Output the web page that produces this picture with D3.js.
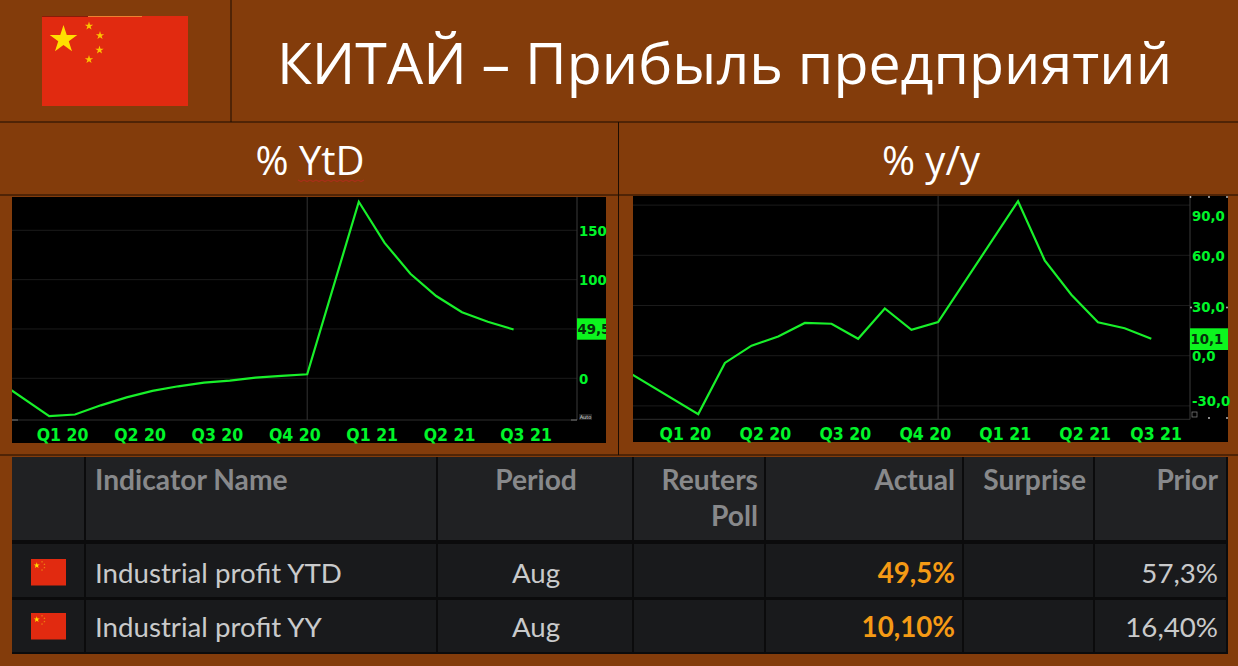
<!DOCTYPE html>
<html><head><meta charset="utf-8">
<script src="https://cdn.jsdelivr.net/npm/d3@7"></script>
<style>
html,body{margin:0;padding:0;background:#833c0b;}
svg{display:block;}
text{white-space:pre;}
.ax{font-family:"DejaVu Sans";font-stretch:condensed;font-weight:bold;font-size:14.8px;fill:#00f52a;}
.ql{font-family:"DejaVu Sans";font-stretch:condensed;font-weight:bold;font-size:17.5px;fill:#00f52a;}
.hd{font-family:"Open Sans";fill:#fff;}
.th{font-family:"Lato";font-weight:700;font-size:28.2px;fill:#88898b;}
.td{font-family:"Lato";font-size:27.7px;fill:#c9cacb;}
.ac{font-family:"Lato";font-weight:700;font-size:27.7px;fill:#f59a15;}
</style></head><body>
<svg id="c" width="1238" height="666"></svg>
<script>
const title = "КИТАЙ – Прибыль предприятий";
const leftTitle = "% YtD";
const rightTitle = "% y/y";
const quarterLabels = ["Q1 20","Q2 20","Q3 20","Q4 20","Q1 21","Q2 21","Q3 21"];
const quarterMonths = [2.5,5.5,8.5,11.5,14.5,17.5,20.5];
const ytdMonths = [0,2,3,4,5,6,7,8,9,10,11,12,14,15,16,17,18,19,20];
const ytdValues = [-2.5,-38.3,-36.7,-27.4,-19.3,-12.8,-8.1,-4.4,-2.4,0.7,2.4,4.1,178.9,137.3,106,83.4,66.9,57.3,49.5];
const yyMonths = [0,3,4,5,6,7,8,9,10,11,12,15,16,17,18,19,20];
const yyValues = [-6.3,-34.9,-4.3,6,11.5,19.6,19.1,10.1,28.2,15.5,20.1,92.3,57,36.4,20,16.4,10.1];
const ytdTicks = [150,100,50,0];
const ytdLabelled = [150,100,0];
const yyTicks = [90,60,30,0,-30];
const headers = ["Indicator Name","Period","Reuters","Poll","Actual","Surprise","Prior"];
const rowNames = ["Industrial profit YTD","Industrial profit YY"];
const rowPeriods = ["Aug","Aug"];
const rowActual = ["49,5%","10,10%"];
const rowPrior = ["57,3%","16,40%"];

const svg = d3.select("#c");
const BROWN="#833c0b", RULE="#1d0d02";
svg.append("rect").attr("width",1238).attr("height",666).attr("fill",BROWN);

[[231,0,231,122],[0,122,1238,122],[0,195,1238,195],[618.5,122,618.5,455],[0,455,1238,455]].forEach(l=>
  svg.append("line").attr("x1",l[0]).attr("y1",l[1]).attr("x2",l[2]).attr("y2",l[3]).attr("stroke",RULE).attr("stroke-width",1));

function flag(g,x,y,w,h,big){
  g.append("rect").attr("x",x).attr("y",y).attr("width",w).attr("height",h).attr("fill","#e12a10");
  const k=w/146;
  const star=(cx,cy,R,c)=>g.append("path").attr("d",d3.symbol(d3.symbolStar,R*R/0.8908)())
     .attr("transform",`translate(${x+cx*k},${y+cy*k})`).attr("fill",c);
  if(big){
    star(21.5,23.5,14.5,"#ffdf00");
    [[47,10],[58,19.5],[57.5,34],[47,43.5]].forEach(p=>star(p[0],p[1],4.4,"#fbc400"));
  } else {
    star(24,27,3.2,"#ffdf00");
    [[46,12],[56,22],[56,36],[46,46]].forEach(p=>star(p[0],p[1],1.2,"#f08a10"));
  }
}
flag(svg.append("g"),42,16,146,90,true);
svg.append("rect").attr("x",42).attr("y",16).attr("width",46).attr("height",1).attr("fill","#8a1c08");
svg.append("rect").attr("x",88).attr("y",16).attr("width",54).attr("height",1).attr("fill","#f08030");

svg.append("text").attr("class","hd").attr("x",724.5).attr("y",84).attr("text-anchor","middle")
  .attr("font-size",57.3).text(title);
svg.append("text").attr("class","hd").attr("x",310).attr("y",175).attr("text-anchor","middle").attr("font-size",40).text(leftTitle);
svg.append("text").attr("class","hd").attr("x",931).attr("y",175).attr("text-anchor","middle").attr("font-size",40).text(rightTitle);
{
 const sq=d3.range(298,365,3).map((x,i)=>[x,180+(i%2?1.6:0)]);
 svg.append("path").attr("d",d3.line()(sq)).attr("fill","none").attr("stroke","#a8301a").attr("stroke-width",1.1);
}

function chart(o){
  const g=svg.append("g");
  g.append("rect").attr("x",o.bx0).attr("y",o.by0).attr("width",o.bx1-o.bx0).attr("height",o.by1-o.by0).attr("fill","#000");
  const x=d3.scaleLinear().domain([0,22]).range(o.xr);
  const y=d3.scaleLinear().domain([0,o.yv]).range([o.y0,o.yp]);
  g.append("g").selectAll("line").data(o.ticks).join("line")
    .attr("x1",o.bx0).attr("x2",o.ax).attr("y1",d=>y(d)).attr("y2",d=>y(d)).attr("stroke","#1b1b1b");
  g.append("line").attr("x1",x(12)).attr("x2",x(12)).attr("y1",o.by0).attr("y2",o.pb).attr("stroke","#333");
  g.append("line").attr("x1",o.bx0).attr("x2",o.ax).attr("y1",o.pb).attr("y2",o.pb).attr("stroke","#2e2e2e");
  g.append("line").attr("x1",o.ax).attr("x2",o.ax).attr("y1",o.by0).attr("y2",o.pb).attr("stroke","#3a3a3a");
  const cid="clip"+o.id;
  svg.append("clipPath").attr("id",cid).append("rect").attr("x",o.bx0).attr("y",o.by0).attr("width",o.ax-o.bx0).attr("height",o.pb-o.by0);
  g.append("path").attr("clip-path",`url(#${cid})`)
    .attr("d",d3.line().x((d,i)=>x(o.months[i])).y(d=>y(d))(o.values))
    .attr("fill","none").attr("stroke","#18f02a").attr("stroke-width",2.2).attr("stroke-linejoin","miter");
  const ya=d3.axisRight(y).tickValues(o.labelled).tickSize(0).tickPadding(0).tickFormat(o.fmt);
  const ag=g.append("g").attr("transform",`translate(${o.lx},0)`).call(ya);
  ag.select(".domain").remove();
  ag.selectAll("text").attr("class","ax").attr("font-family",null).attr("font-size",null).attr("fill",null)
    .attr("dy",d=>(o.nudge&&o.nudge[d]||0)+5+"px").attr("x",0);
  const xa=d3.axisBottom(x).tickValues(quarterMonths).tickSize(0).tickPadding(0).tickFormat((d,i)=>quarterLabels[i]);
  const xg=g.append("g").attr("transform",`translate(0,${o.ql})`).call(xa);
  xg.select(".domain").remove();
  xg.selectAll("text").attr("class","ql").attr("font-family",null).attr("font-size",null).attr("fill",null)
    .attr("dy","0").attr("y",0).attr("dx",(d,i)=>i===6?o.lastShift:0);
  const tagClip="tag"+o.id;
  svg.append("clipPath").attr("id",tagClip).append("rect").attr("x",o.ax).attr("y",o.tag[0]).attr("width",o.bx1-o.ax).attr("height",o.tag[1]-o.tag[0]);
  g.append("rect").attr("x",o.ax).attr("y",o.tag[0]).attr("width",o.bx1-o.ax).attr("height",o.tag[1]-o.tag[0]).attr("fill","#0cf51e");
  g.append("text").attr("clip-path",`url(#${tagClip})`).attr("class","ax").attr("x",o.ax+0.5).attr("y",(o.tag[0]+o.tag[1])/2+5)
    .style("fill","#04300a").text(o.tagText);
  return g;
}
const gl=chart({id:"L",bx0:12,bx1:606,by0:197,by1:443,ax:577,pb:420,xr:[-2.4,565.2],y0:378.3,yv:150,yp:230.3,
  months:ytdMonths,values:ytdValues,ticks:ytdTicks,labelled:ytdLabelled,fmt:d=>String(d),lx:579,ql:441,lastShift:-1,
  tag:[318.3,339.7],tagText:"49,5"});
gl.append("rect").attr("x",579).attr("y",414).attr("width",13).attr("height",6).attr("fill","#222");
gl.append("text").attr("x",585.5).attr("y",419).attr("text-anchor","middle").attr("font-family","DejaVu Sans").attr("font-size",5).attr("fill","#ddd").text("Auto");
[[12,18],[571,577]].forEach(p=>gl.append("line").attr("x1",p[0]).attr("x2",p[1]).attr("y1",420).attr("y2",420).attr("stroke","#777"));
const gr=chart({id:"R",bx0:633,bx1:1228,by0:196,by1:442,ax:1190,pb:419.3,xr:[618.3,1204.6],y0:355.7,yv:60,yp:255.3,
  months:yyMonths,values:yyValues,ticks:yyTicks,labelled:yyTicks,fmt:d=>d3.format(".1f")(d).replace(".",",").replace("\u2212","-"),lx:1192,ql:440,lastShift:-9,
  nudge:{90:10,30:1,"-30":-5},tag:[328.3,350],tagText:"10,1"});
[[1190.5,197],[1209,197],[1227,197],[1191,307.5],[1227,307.5],[1209,418],[1227,418]].forEach(p=>
  gr.append("circle").attr("cx",p[0]).attr("cy",p[1]).attr("r",0.9).attr("fill","#ccc"));
gr.append("rect").attr("x",1192).attr("y",412).attr("width",5).attr("height",5).attr("fill","none").attr("stroke","#888").attr("stroke-width",0.7);

const colX=[12,86,438,634,766,964,1095,1228];
const T=svg.append("g");
T.append("rect").attr("x",12).attr("y",457).attr("width",1216).attr("height",197).attr("fill","#0b0b0c");
const rows=[[457,540,"#202123"],[544,597,"#191a1c"],[600,652,"#191a1c"]];
rows.forEach(r=>colX.slice(0,-1).forEach((cx,i)=>
  T.append("rect").attr("x",cx).attr("y",r[0]).attr("width",colX[i+1]-cx-2).attr("height",r[1]-r[0]).attr("fill",r[2])));
const txt=(cls,x,y,s,a)=>T.append("text").attr("class",cls).attr("x",x).attr("y",y).attr("text-anchor",a||"start").text(s);
txt("th",95,490,headers[0]);
txt("th",536,490,headers[1],"middle");
txt("th",758,490,headers[2],"end");
txt("th",758,526,headers[3],"end");
txt("th",955,490,headers[4],"end");
txt("th",1086,490,headers[5],"end");
txt("th",1218,490,headers[6],"end");
[583,637].forEach((by,i)=>{
  txt("td",95,by,rowNames[i]);
  txt("td",536,by,rowPeriods[i],"middle");
  txt("ac",955,by,rowActual[i],"end");
  txt("td",1218,by,rowPrior[i],"end");
  flag(T.append("g"),31,by-24,35,26.5,false);
});
</script></body></html>
